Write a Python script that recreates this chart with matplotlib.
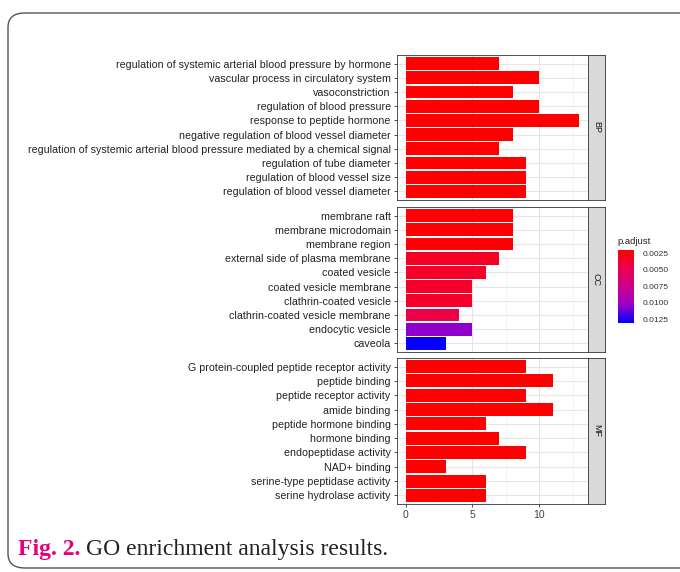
import matplotlib
matplotlib.use("Agg")
import matplotlib.pyplot as plt
import numpy as np
from matplotlib.colors import LinearSegmentedColormap, Normalize
from matplotlib.patches import FancyBboxPatch
import matplotlib.cm as cm

bp_terms = ["regulation of systemic arterial blood pressure by hormone",
            "vascular process in circulatory system",
            "vasoconstriction",
            "regulation of blood pressure",
            "response to peptide hormone",
            "negative regulation of blood vessel diameter",
            "regulation of systemic arterial blood pressure mediated by a chemical signal",
            "regulation of tube diameter",
            "regulation of blood vessel size",
            "regulation of blood vessel diameter"]
bp_counts = [7, 10, 8, 10, 13, 8, 7, 9, 9, 9]
bp_padj = [0.0020, 0.0020, 0.0020, 0.0020, 0.0020, 0.0020, 0.0020, 0.0020, 0.0020, 0.0020]

cc_terms = ["membrane raft", "membrane microdomain", "membrane region",
            "external side of plasma membrane", "coated vesicle",
            "coated vesicle membrane", "clathrin-coated vesicle",
            "clathrin-coated vesicle membrane", "endocytic vesicle", "caveola"]
cc_counts = [8, 8, 8, 7, 6, 5, 5, 4, 5, 3]
cc_padj = [0.0021, 0.0021, 0.0021, 0.0033, 0.0035, 0.0035, 0.0035, 0.0045, 0.0105, 0.0130]

mf_terms = ["G protein-coupled peptide receptor activity", "peptide binding",
            "peptide receptor activity", "amide binding", "peptide hormone binding",
            "hormone binding", "endopeptidase activity", "NAD+ binding",
            "serine-type peptidase activity", "serine hydrolase activity"]
mf_counts = [9, 11, 9, 11, 6, 7, 9, 3, 6, 6]
mf_padj = [0.0020, 0.0020, 0.0020, 0.0020, 0.0020, 0.0020, 0.0020, 0.0020, 0.0020, 0.0020]

facets = ["BP", "CC", "MF"]
cbar_ticks = [0.0025, 0.0050, 0.0075, 0.0100, 0.0125]
x_ticks = [0, 5, 10]

plt.rcParams['font.family'] = ['Liberation Sans', 'DejaVu Sans']

cmap = LinearSegmentedColormap.from_list(
    "padj", [(0.0, "#FF0000"), (0.25, "#EA0050"), (0.5, "#CC0088"),
             (0.75, "#9A00C8"), (1.0, "#0000FF")])
vmin, vmax = 0.0020, 0.0131
norm = Normalize(vmin=vmin, vmax=vmax)

fig = plt.figure(figsize=(6.8, 5.72), dpi=100)
W, H = 680, 572

# outer rounded frame
frame = FancyBboxPatch((8 / W, 4 / H), 700 / W, (559 - 4) / H,
                       boxstyle="round,pad=0,rounding_size=0.025",
                       transform=fig.transFigure, fill=False,
                       edgecolor="#555555", linewidth=1.0, clip_on=False)
fig.patches.append(frame)

panels = [(55, 200), (207, 352), (358, 504)]
ax_left, ax_right = 397, 588
strip_w = 17
data = [(bp_terms, bp_counts, bp_padj), (cc_terms, cc_counts, cc_padj),
        (mf_terms, mf_counts, mf_padj)]

for i, ((top, bot), (terms, counts, padj), lab) in enumerate(zip(panels, data, facets)):
    ax = fig.add_axes([ax_left / W, 1 - bot / H, (ax_right - ax_left) / W, (bot - top) / H])
    y = np.arange(len(terms))[::-1]
    ax.barh(y, counts, height=0.9, color=cmap(norm(np.array(padj))), zorder=3)
    ax.set_xlim(-0.65, 13.65)
    ax.set_ylim(-0.6, len(terms) - 0.4)
    ax.set_yticks(y)
    ax.set_yticklabels(terms, fontsize=7.7, color="#222222")
    ax.set_xticks(x_ticks)
    ax.set_xticks([2.5, 7.5, 12.5], minor=True)
    ax.grid(True, which="major", color="#E6E6E6", linewidth=0.8, zorder=0)
    ax.grid(True, which="minor", axis="x", color="#F2F2F2", linewidth=0.5, zorder=0)
    ax.tick_params(axis="both", which="major", length=2.5, width=0.6, color="#333333", pad=2)
    ax.tick_params(axis="both", which="minor", length=0)
    if i < 2:
        ax.set_xticklabels([])
        ax.tick_params(axis="x", length=0)
    else:
        ax.set_xticklabels([str(t) for t in x_ticks], fontsize=7.5, color="#444444")
    for s in ax.spines.values():
        s.set_color("#333333")
        s.set_linewidth(0.6)
    # strip
    sax = fig.add_axes([ax_right / W, 1 - bot / H, strip_w / W, (bot - top) / H])
    sax.set_facecolor("#D9D9D9")
    sax.set_xticks([])
    sax.set_yticks([])
    for s in sax.spines.values():
        s.set_color("#333333")
        s.set_linewidth(0.6)
    sax.text(0.5, 0.5, lab, rotation=-90, ha="center", va="center",
             fontsize=6.5, color="#1A1A1A", transform=sax.transAxes)

# colorbar
cax = fig.add_axes([618 / W, 1 - 323 / H, 16 / W, (323 - 250) / H])
cb = fig.colorbar(cm.ScalarMappable(norm=norm, cmap=cmap), cax=cax, ticks=cbar_ticks)
cb.outline.set_visible(False)
cb.ax.tick_params(length=3, color="white", width=0.8, labelsize=6, labelcolor="#333333", pad=3)
cb.ax.set_yticklabels(["%.4f" % t for t in cbar_ticks])
cb.ax.invert_yaxis()
fig.text(617 / W, 1 - 241 / H, "p.adjust", fontsize=6.8, color="#222222", ha="left", va="center")

# caption
fig.text(18 / W, 1 - 549 / H, "Fig. 2.", fontsize=17, fontweight="bold",
         color="#E4007F", family="Liberation Serif", ha="left", va="center")
fig.text(86 / W, 1 - 549 / H, "GO enrichment analysis results.", fontsize=17,
         color="#222222", family="Liberation Serif", ha="left", va="center")

fig.savefig("out.png", dpi=100)
